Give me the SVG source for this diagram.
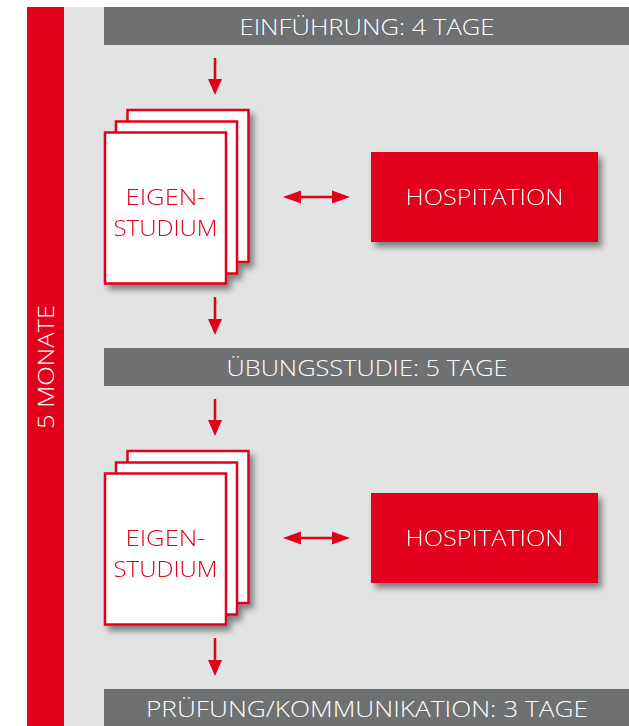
<svg xmlns="http://www.w3.org/2000/svg" width="629" height="726" viewBox="0 0 629 726">
<defs>
<style>
.panel{fill:#e2e4e3}
.side{fill:#e2001a}
.bar{fill:#6f7072}
.bt{font-family:"Open Sans","Liberation Sans",sans-serif;font-weight:300;font-size:22px;fill:#ffffff;text-anchor:middle}
.pt{font-family:"Open Sans","Liberation Sans",sans-serif;font-weight:300;font-size:22px;fill:#e2001a;text-anchor:middle}
.page{fill:#ffffff;stroke:#e2001a;stroke-width:2.5}
.hosp{fill:#e2001a}
.ln{stroke:#e2001a;stroke-width:2.5;fill:none}
.hd{fill:#e2001a}
</style>
<filter id="sh" x="-20%" y="-20%" width="150%" height="150%">
<feGaussianBlur in="SourceAlpha" stdDeviation="3"/>
<feOffset dx="4" dy="5" result="b"/>
<feComponentTransfer><feFuncA type="linear" slope="0.45"/></feComponentTransfer>
<feMerge><feMergeNode/><feMergeNode in="SourceGraphic"/></feMerge>
</filter>
</defs>
<rect x="0" y="0" width="629" height="726" fill="#ffffff"/>
<rect class="panel" x="27" y="7" width="602" height="719"/>
<g id="side">
<rect class="side" x="27" y="7" width="37" height="719"/>
<text class="bt" transform="translate(54,367) rotate(-90)" textLength="124" lengthAdjust="spacingAndGlyphs">5 MONATE</text>
</g>
<g id="bar1">
<rect class="bar" x="104" y="7" width="525" height="38"/>
<text class="bt" x="367" y="35" textLength="255" lengthAdjust="spacingAndGlyphs">EINFÜHRUNG: 4 TAGE</text>
</g>
<g id="stack1" filter="url(#sh)">
<rect class="page" x="127.5" y="110" width="121" height="152"/>
<rect class="page" x="116" y="121.5" width="121" height="152"/>
<rect class="page" x="105" y="132.5" width="121" height="151"/>
<text class="pt" x="165.5" y="205" textLength="80" lengthAdjust="spacingAndGlyphs">EIGEN-</text>
<text class="pt" x="165.5" y="236" textLength="104" lengthAdjust="spacingAndGlyphs">STUDIUM</text>
</g>
<g id="hosp1" filter="url(#sh)">
<rect class="hosp" x="371" y="152" width="227" height="90"/>
<text class="bt" x="484.5" y="205" textLength="158" lengthAdjust="spacingAndGlyphs">HOSPITATION</text>
</g>
<g id="bar2">
<rect class="bar" x="104" y="348" width="525" height="38"/>
<text class="bt" x="367" y="376" textLength="281" lengthAdjust="spacingAndGlyphs">ÜBUNGSSTUDIE: 5 TAGE</text>
</g>
<g id="stack2" filter="url(#sh)">
<rect class="page" x="127.5" y="451" width="121" height="152"/>
<rect class="page" x="116" y="462.5" width="121" height="152"/>
<rect class="page" x="105" y="473.5" width="121" height="151"/>
<text class="pt" x="165.5" y="546" textLength="80" lengthAdjust="spacingAndGlyphs">EIGEN-</text>
<text class="pt" x="165.5" y="577" textLength="104" lengthAdjust="spacingAndGlyphs">STUDIUM</text>
</g>
<g id="hosp2" filter="url(#sh)">
<rect class="hosp" x="371" y="493" width="227" height="90"/>
<text class="bt" x="484.5" y="546" textLength="158" lengthAdjust="spacingAndGlyphs">HOSPITATION</text>
</g>
<g id="bar3">
<rect class="bar" x="104" y="689" width="525" height="37"/>
<text class="bt" x="367" y="717" textLength="442" lengthAdjust="spacingAndGlyphs">PRÜFUNG/KOMMUNIKATION: 3 TAGE</text>
</g>
<g id="connectors">
<line class="ln" x1="215" y1="58" x2="215" y2="80"/>
<polygon class="hd" points="208,79 222,79 215,95"/>
<line class="ln" x1="215" y1="297" x2="215" y2="320"/>
<polygon class="hd" points="208,319 222,319 215,335"/>
<line class="ln" x1="215" y1="399" x2="215" y2="421"/>
<polygon class="hd" points="208,420 222,420 215,436"/>
<line class="ln" x1="215" y1="638" x2="215" y2="661"/>
<polygon class="hd" points="208,660 222,660 215,676"/>
<line class="ln" x1="298" y1="197" x2="336" y2="197"/>
<polygon class="hd" points="283,197 301,190.5 301,203.5"/>
<polygon class="hd" points="350,197 332,190.5 332,203.5"/>
<line class="ln" x1="298" y1="538" x2="336" y2="538"/>
<polygon class="hd" points="283,538 301,531.5 301,544.5"/>
<polygon class="hd" points="350,538 332,531.5 332,544.5"/>
</g>
</svg>
